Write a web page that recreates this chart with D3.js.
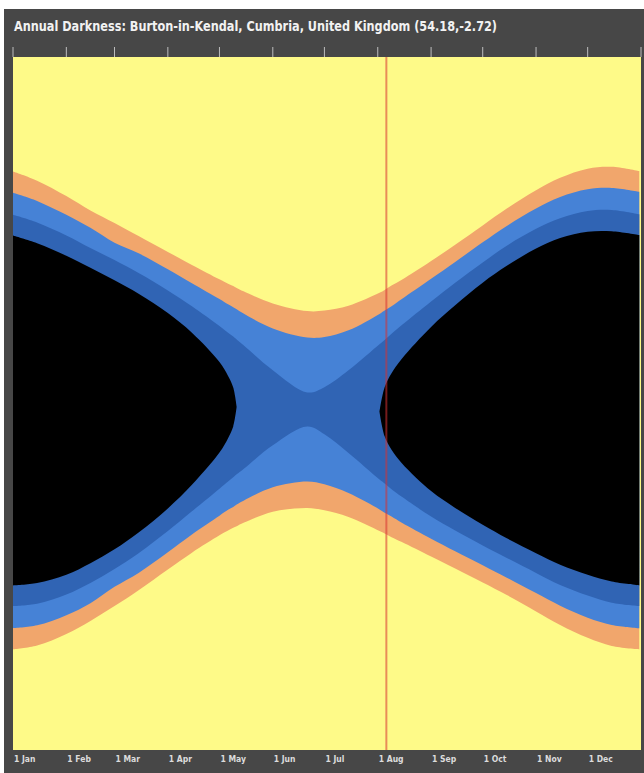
<!DOCTYPE html>
<html>
<head>
<meta charset="utf-8">
<script src="https://cdn.jsdelivr.net/npm/d3@7/dist/d3.min.js"></script>
<style>
  html, body { margin: 0; padding: 0; background: #ffffff; }
  svg { display: block; }
</style>
</head>
<body>
<svg id="chart" width="644" height="773"></svg>
<script>
// ---- Data (clock times, GMT) ----
const title = "Annual Darkness: Burton-in-Kendal, Cumbria, United Kingdom (54.18,-2.72)";
const dates = ["01-01","01-15","02-01","02-15","03-01","03-15","04-01","04-15","05-01","05-06","05-09","05-11","05-15",
               "06-01","06-21","07-01","07-15","08-02","08-05","08-09","08-15","09-01","09-15","10-01","10-15",
               "11-01","11-15","12-01","12-15","12-31"];
const sunset       = ["15:58","16:17","16:49","17:19","17:45","18:12","18:45","19:12","19:42","19:51","19:56","20:00","20:07",
                      "20:32","20:48","20:47","20:37","20:10","20:04","19:55","19:43","19:04","18:30","17:50","17:15",
                      "16:37","16:11","15:52","15:48","15:57"];
const civilDusk    = ["16:42","16:59","17:28","17:55","18:26","18:48","19:21","19:50","20:23","20:34","20:40","20:44","20:53",
                      "21:24","21:43","21:42","21:28","20:54","20:47","20:38","20:23","19:41","19:06","18:25","17:51",
                      "17:15","16:51","16:35","16:32","16:40"];
const nauticalDusk = ["17:28","17:44","18:11","18:37","19:02","19:29","20:05","20:38","21:19","21:33","21:41","21:47","21:59",
                      "22:51","23:37","23:26","22:51","21:57","21:48","21:35","21:17","20:28","19:49","19:07","18:32",
                      "17:57","17:35","17:20","17:18","17:27"];
const astroDusk    = ["18:11","18:27","18:53","19:18","19:44","20:12","20:52","21:33","22:34","23:03","23:27","00:07",null,
                      null,null,null,null,"00:17","23:26","22:57","22:27","21:21","20:36","19:49","19:14",
                      "18:38","18:16","18:03","18:02","18:10"];
const astroDawn    = ["06:18","06:13","05:56","05:32","05:03","04:28","03:38","02:49","01:42","01:12","00:48","00:07",null,
                      null,null,null,null,"00:17","01:08","01:36","02:04","03:02","03:37","04:12","04:40",
                      "05:11","05:35","05:56","06:10","06:18"];
const nauticalDawn = ["07:01","06:56","06:37","06:13","05:44","05:11","04:25","03:44","02:57","02:42","02:33","02:27","02:16",
                      "01:27","00:48","01:04","01:43","02:38","02:46","02:58","03:14","03:55","04:24","04:55","05:21",
                      "05:52","06:17","06:39","06:54","07:01"];
const civilDawn    = ["07:47","07:41","07:20","06:55","06:21","05:52","05:09","04:32","03:53","03:41","03:35","03:30","03:22",
                      "02:54","02:42","02:48","03:06","03:40","03:47","03:55","04:08","04:41","05:07","05:36","06:02",
                      "06:34","07:00","07:25","07:40","07:47"];
const sunrise      = ["08:31","08:23","07:59","07:32","07:01","06:28","05:45","05:10","04:34","04:24","04:18","04:15","04:08",
                      "03:45","03:37","03:42","03:56","04:25","04:30","04:38","04:48","05:18","05:43","06:12","06:38",
                      "07:12","07:40","08:07","08:24","08:31"];
const monthLabels = ["1 Jan","1 Feb","1 Mar","1 Apr","1 May","1 Jun","1 Jul","1 Aug","1 Sep","1 Oct","1 Nov","1 Dec"];
const markerDate = "08-06";
const year = 2023;

// ---- Layout ----
const svg = d3.select("#chart");
const L = 13, R = 641, T = 57, B = 750;

const parseDay = s => new Date(year, +s.slice(0,2) - 1, +s.slice(3,5));
const x = d3.scaleTime().domain([new Date(year,0,1), new Date(year+1,0,1)]).range([L, R]);
const y = d3.scaleLinear().domain([0, 24]).range([T, B]); // hours after noon
const hrs = t => { const [h, m] = t.split(":").map(Number); let v = h + m/60 - 12; if (v < 0) v += 24; return v; };

svg.append("rect").attr("x", 4).attr("y", 9).attr("width", 640).attr("height", 764).attr("fill", "#474747");

svg.append("defs").append("clipPath").attr("id", "plotclip")
  .append("rect").attr("x", L).attr("y", T).attr("width", R - L).attr("height", B - T);

svg.append("rect").attr("x", L).attr("y", T).attr("width", R - L).attr("height", B - T).attr("fill", "#fefa88");

const g = svg.append("g").attr("clip-path", "url(#plotclip)");
const idx = d3.range(dates.length);

function band(top, bot, color) {
  const a = d3.area()
    .defined(i => top[i] != null && bot[i] != null)
    .x(i => x(parseDay(dates[i])))
    .y0(i => y(hrs(top[i])))
    .y1(i => y(hrs(bot[i])))
    .curve(d3.curveCatmullRom.alpha(0.5));
  g.append("path").attr("d", a(idx)).attr("fill", color);
}
band(sunset, sunrise, "#f1a66c");
band(civilDusk, civilDawn, "#4682d6");
band(nauticalDusk, nauticalDawn, "#3064b4");
band(astroDusk, astroDawn, "#000000");

// today marker
svg.append("line")
  .attr("x1", x(parseDay(markerDate))).attr("x2", x(parseDay(markerDate)))
  .attr("y1", T).attr("y2", B)
  .attr("stroke", "rgba(215,50,50,0.55)").attr("stroke-width", 2);

// top ticks
const months = d3.timeMonth.range(new Date(year,0,1), new Date(year+1,0,2));
svg.append("g").selectAll("line").data(months).join("line")
  .attr("x1", d => x(d)).attr("x2", d => x(d))
  .attr("y1", T - 10).attr("y2", T)
  .attr("stroke", "#bdbdbd").attr("stroke-width", 1);

// bottom labels
svg.append("g").selectAll("text").data(monthLabels).join("text")
  .attr("x", (d, i) => x(new Date(year, i, 1)) + 1)
  .attr("y", 762)
  .attr("fill", "#dcdcdc")
  .attr("font-family", "'DejaVu Sans Condensed', 'Liberation Sans Narrow', sans-serif")
  .attr("font-weight", "bold")
  .attr("font-size", 8.5)
  .text(d => d);

// title
svg.append("text")
  .attr("x", 14).attr("y", 31)
  .attr("fill", "#f2f2f2")
  .attr("font-family", "'DejaVu Sans Condensed', 'Liberation Sans Narrow', sans-serif")
  .attr("font-weight", "bold")
  .attr("font-size", 13.5)
  .attr("textLength", 483)
  .attr("lengthAdjust", "spacingAndGlyphs")
  .text(title);
</script>
</body>
</html>
